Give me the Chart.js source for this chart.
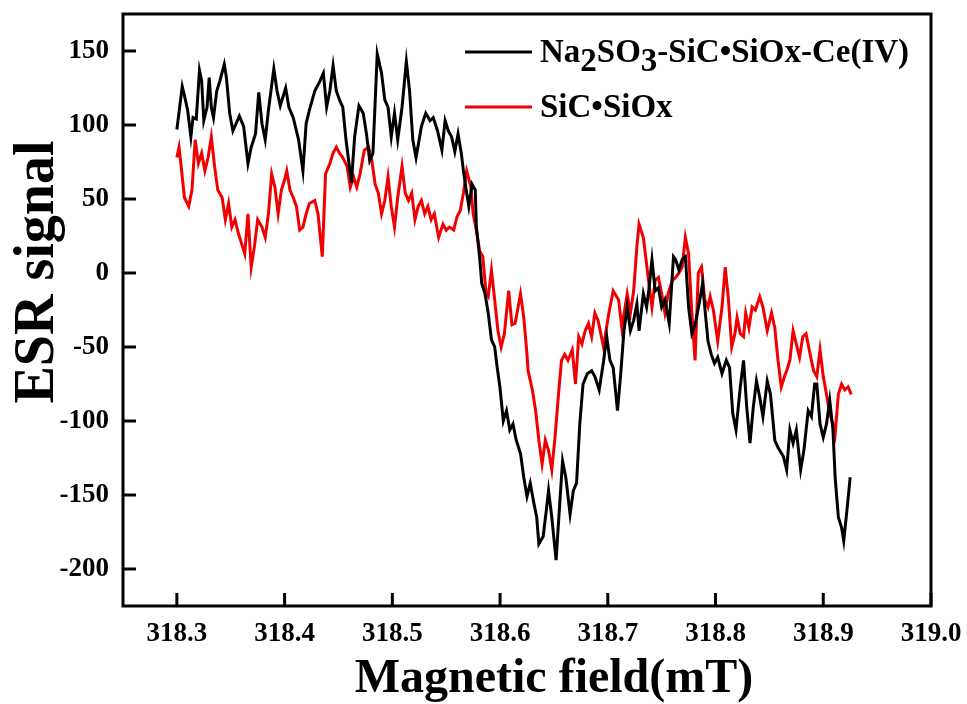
<!DOCTYPE html>
<html>
<head>
<meta charset="utf-8">
<script src="https://cdn.jsdelivr.net/npm/chart.js@4/dist/chart.umd.min.js"></script>
<style>
  html, body { margin: 0; padding: 0; background: #fff; }
  canvas { display: block; }
</style>
</head>
<body>
<canvas id="esr" width="967" height="704"></canvas>
<script>
// tick positions
var xTicks = [318.3, 318.4, 318.5, 318.6, 318.7, 318.8, 318.9, 319.0];
var yTicks = [-200, -150, -100, -50, 0, 50, 100, 150];

// series names
var blackName = ['Na', '2', 'SO', '3', '-SiC\u2022SiOx-Ce(IV)'];
var redName = ['SiC\u2022SiOx'];

// Na2SO3-SiC.SiOx-Ce(IV) : field (mT) / signal
var blackField = [318.300, 318.305, 318.307, 318.310, 318.313, 318.315, 318.318, 318.321, 318.323, 318.325,
  318.328, 318.330, 318.332, 318.334, 318.337, 318.340, 318.344, 318.346, 318.349, 318.352,
  318.355, 318.358, 318.362, 318.366, 318.369, 318.373, 318.376, 318.379, 318.382, 318.385,
  318.390, 318.393, 318.396, 318.401, 318.404, 318.408, 318.413, 318.417, 318.420, 318.423,
  318.428, 318.433, 318.436, 318.439, 318.442, 318.445, 318.448, 318.451, 318.454, 318.457,
  318.462, 318.465, 318.469, 318.473, 318.476, 318.479, 318.482, 318.486, 318.490, 318.493,
  318.496, 318.499, 318.502, 318.505, 318.509, 318.513, 318.516, 318.519, 318.522, 318.527,
  318.531, 318.535, 318.538, 318.542, 318.546, 318.549, 318.552, 318.555, 318.558, 318.561,
  318.564, 318.566, 318.569, 318.571, 318.574, 318.577, 318.578, 318.581, 318.583, 318.586,
  318.589, 318.592, 318.595, 318.597, 318.600, 318.603, 318.606, 318.609, 318.612, 318.615,
  318.619, 318.622, 318.625, 318.628, 318.631, 318.634, 318.636, 318.640, 318.643, 318.645,
  318.648, 318.652, 318.655, 318.658, 318.661, 318.665, 318.668, 318.671, 318.674, 318.677,
  318.681, 318.685, 318.688, 318.692, 318.696, 318.699, 318.702, 318.705, 318.709, 318.712,
  318.715, 318.718, 318.721, 318.724, 318.727, 318.729, 318.733, 318.736, 318.738, 318.741,
  318.744, 318.747, 318.750, 318.753, 318.757, 318.761, 318.763, 318.766, 318.769, 318.772,
  318.775, 318.778, 318.781, 318.785, 318.788, 318.790, 318.793, 318.796, 318.799, 318.802,
  318.806, 318.810, 318.813, 318.816, 318.819, 318.823, 318.826, 318.829, 318.832, 318.835,
  318.838, 318.841, 318.844, 318.848, 318.851, 318.855, 318.858, 318.863, 318.866, 318.869,
  318.872, 318.875, 318.879, 318.882, 318.886, 318.889, 318.892, 318.894, 318.897, 318.900,
  318.903, 318.906, 318.909, 318.911, 318.914, 318.917, 318.919, 318.922, 318.925];
var blackSignal = [97, 126, 120, 110, 92, 105, 104, 137, 130, 103,
  112, 132, 112, 105, 123, 130, 141, 132, 108, 96,
  101, 106, 99, 74, 85, 94, 122, 101, 90, 110,
  138, 123, 113, 125, 112, 105, 90, 69, 101, 110,
  123, 130, 135, 112, 123, 140, 123, 117, 112, 90,
  61, 92, 113, 108, 94, 76, 81, 148, 135, 117,
  112, 92, 108, 90, 112, 143, 123, 90, 78, 99,
  108, 103, 105, 96, 83, 103, 96, 92, 82, 94,
  81, 69, 54, 45, 60, 56, 31, 11, -7, -14,
  -27, -45, -50, -62, -78, -100, -93, -106, -102, -113,
  -122, -138, -151, -142, -154, -165, -183, -178, -160, -147,
  -165, -194, -160, -127, -138, -163, -147, -142, -102, -75,
  -68, -66, -70, -79, -60, -43, -59, -64, -93, -68,
  -39, -23, -39, -32, -21, -39, -14, -23, -12, 9,
  -12, -10, -23, -18, -34, 11, 9, 2, 9, 11,
  -23, -41, -35, -20, -7, -23, -46, -55, -61, -57,
  -68, -59, -64, -95, -106, -77, -59, -91, -115, -91,
  -73, -84, -97, -73, -82, -113, -118, -124, -133, -106,
  -115, -106, -133, -120, -93, -97, -75, -75, -102, -111,
  -102, -86, -106, -138, -165, -172, -181, -160, -138];

// SiC.SiOx : field (mT) / signal
var redField = [318.300, 318.302, 318.304, 318.307, 318.311, 318.314, 318.317, 318.320, 318.323, 318.326,
  318.329, 318.332, 318.335, 318.338, 318.342, 318.345, 318.348, 318.351, 318.354, 318.357,
  318.360, 318.363, 318.366, 318.369, 318.372, 318.375, 318.379, 318.382, 318.385, 318.388,
  318.391, 318.394, 318.397, 318.400, 318.402, 318.405, 318.408, 318.411, 318.414, 318.417,
  318.420, 318.423, 318.428, 318.431, 318.435, 318.438, 318.442, 318.445, 318.448, 318.451,
  318.454, 318.458, 318.461, 318.464, 318.467, 318.470, 318.474, 318.478, 318.481, 318.484,
  318.487, 318.490, 318.493, 318.496, 318.499, 318.502, 318.505, 318.509, 318.512, 318.515,
  318.518, 318.521, 318.524, 318.527, 318.530, 318.533, 318.536, 318.539, 318.543, 318.547,
  318.550, 318.553, 318.557, 318.560, 318.563, 318.566, 318.569, 318.573, 318.575, 318.578,
  318.581, 318.584, 318.587, 318.589, 318.592, 318.595, 318.598, 318.601, 318.604, 318.608,
  318.611, 318.614, 318.619, 318.622, 318.625, 318.626, 318.630, 318.633, 318.636, 318.639,
  318.642, 318.645, 318.648, 318.651, 318.654, 318.657, 318.660, 318.663, 318.667, 318.670,
  318.673, 318.676, 318.679, 318.682, 318.685, 318.688, 318.691, 318.696, 318.701, 318.705,
  318.710, 318.713, 318.718, 318.721, 318.724, 318.727, 318.729, 318.733, 318.736, 318.739,
  318.741, 318.744, 318.747, 318.750, 318.753, 318.756, 318.760, 318.763, 318.766, 318.769,
  318.772, 318.775, 318.778, 318.781, 318.784, 318.787, 318.790, 318.793, 318.795, 318.798,
  318.802, 318.806, 318.809, 318.812, 318.815, 318.818, 318.820, 318.823, 318.826, 318.828,
  318.831, 318.834, 318.837, 318.841, 318.844, 318.848, 318.852, 318.855, 318.858, 318.861,
  318.864, 318.866, 318.869, 318.872, 318.875, 318.878, 318.881, 318.884, 318.887, 318.891,
  318.894, 318.897, 318.900, 318.903, 318.906, 318.909, 318.911, 318.914, 318.917, 318.920,
  318.923, 318.926];
var redSignal = [78, 85, 72, 51, 45, 56, 90, 74, 81, 69,
  78, 92, 72, 56, 51, 36, 47, 31, 36, 27,
  20, 13, 40, 4, 18, 36, 31, 24, 40, 67,
  58, 40, 56, 63, 69, 56, 51, 45, 29, 31,
  40, 47, 49, 40, 11, 67, 74, 81, 85, 81,
  78, 72, 58, 65, 58, 67, 83, 85, 76, 60,
  54, 40, 49, 65, 45, 31, 51, 72, 54, 49,
  54, 36, 45, 49, 40, 45, 36, 40, 24, 33,
  29, 31, 29, 38, 42, 54, 69, 58, 40, 29,
  15, 11, -14, -16, 2, -18, -39, -50, -41, -12,
  -35, -34, -14, -30, -55, -66, -79, -93, -113, -129,
  -113, -120, -133, -111, -84, -59, -55, -59, -52, -75,
  -43, -48, -39, -34, -43, -27, -32, -50, -27, -12,
  -18, -37, -14, -27, -12, 18, 33, 24, 6, -12,
  -23, -5, -3, -14, -27, -14, -5, -3, 0, 4,
  24, 13, -27, -59, 0, 4, -18, -23, -16, -25,
  -46, -23, 4, -18, -50, -41, -30, -41, -43, -27,
  -37, -23, -25, -16, -23, -39, -27, -37, -59, -77,
  -70, -66, -59, -39, -48, -57, -43, -41, -52, -66,
  -70, -52, -70, -82, -95, -102, -109, -82, -75, -79,
  -77, -82];

function toPoints(xs, ys) {
  var pts = [];
  for (var i = 0; i < xs.length; i++) pts.push({ x: xs[i], y: ys[i] });
  return pts;
}

var FONT = '"Liberation Serif", "Times New Roman", serif';

// frame, inward ticks, axis titles and legend
var decor = {
  id: 'decor',
  afterDraw: function (chart) {
    var ctx = chart.ctx, a = chart.chartArea;
    var sx = chart.scales.x, sy = chart.scales.y;
    ctx.save();
    ctx.strokeStyle = '#000';
    ctx.lineWidth = 3;
    ctx.strokeRect(a.left, a.top, a.right - a.left, a.bottom - a.top);
    ctx.beginPath();
    xTicks.forEach(function (v) {
      var px = sx.getPixelForValue(v);
      ctx.moveTo(px, a.bottom);
      ctx.lineTo(px, a.bottom - 13);
    });
    yTicks.forEach(function (v) {
      var py = sy.getPixelForValue(v);
      ctx.moveTo(a.left, py);
      ctx.lineTo(a.left + 13, py);
    });
    ctx.stroke();

    // axis titles
    ctx.fillStyle = '#000';
    ctx.textBaseline = 'alphabetic';
    ctx.textAlign = 'center';
    ctx.font = 'bold 48px ' + FONT;
    ctx.fillText('Magnetic field(mT)', 554, 692);
    ctx.save();
    ctx.translate(53, 272);
    ctx.rotate(-Math.PI / 2);
    ctx.font = 'bold 56px ' + FONT;
    ctx.fillText('ESR signal', 0, 0);
    ctx.restore();

    // legend
    var ds = chart.data.datasets;
    var rows = [{ parts: blackName, y: 52 }, { parts: redName, y: 107 }];
    ctx.textAlign = 'left';
    ctx.font = 'bold 33px ' + FONT;
    rows.forEach(function (r, i) {
      ctx.strokeStyle = ds[i].borderColor;
      ctx.lineWidth = 3;
      ctx.beginPath();
      ctx.moveTo(465, r.y);
      ctx.lineTo(532, r.y);
      ctx.stroke();
      var x = 540;
      r.parts.forEach(function (p) {
        var sub = /^\d$/.test(p);
        ctx.fillText(p, x, r.y + 10 + (sub ? 9 : 0));
        x += ctx.measureText(p).width;
      });
    });
    ctx.restore();
  }
};

new Chart(document.getElementById('esr'), {
  type: 'line',
  data: {
    datasets: [
      { label: blackName.join(''), data: toPoints(blackField, blackSignal), borderColor: '#000000' },
      { label: redName.join(''), data: toPoints(redField, redSignal), borderColor: '#f00000' }
    ]
  },
  options: {
    responsive: false,
    animation: false,
    devicePixelRatio: 1,
    layout: { padding: { top: 14, right: 36, left: 0, bottom: 0 } },
    elements: {
      point: { radius: 0 },
      line: { borderWidth: 3, tension: 0 }
    },
    plugins: { legend: { display: false }, tooltip: { enabled: false } },
    scales: {
      x: {
        type: 'linear',
        min: 318.25,
        max: 319.0,
        grid: { display: false, drawTicks: false },
        border: { display: false },
        afterBuildTicks: function (s) { s.ticks = xTicks.map(function (v) { return { value: v }; }); },
        afterFit: function (s) {
          s.height = 98;
          s.paddingLeft = 0;
          s.paddingRight = 0;
        },
        ticks: {
          padding: 12,
          color: '#000',
          font: { family: FONT, weight: 'bold', size: 27 },
          callback: function (v) { return v.toFixed(1); }
        }
      },
      y: {
        min: -225,
        max: 175,
        grid: { display: false, drawTicks: false },
        border: { display: false },
        afterBuildTicks: function (s) { s.ticks = yTicks.map(function (v) { return { value: v }; }); },
        afterFit: function (s) {
          s.width = 123;
          s.paddingTop = 0;
          s.paddingBottom = 0;
        },
        ticks: {
          padding: 14,
          color: '#000',
          font: { family: FONT, weight: 'bold', size: 27 },
          callback: function (v) { return v; }
        }
      }
    }
  },
  plugins: [decor]
});
</script>
</body>
</html>
